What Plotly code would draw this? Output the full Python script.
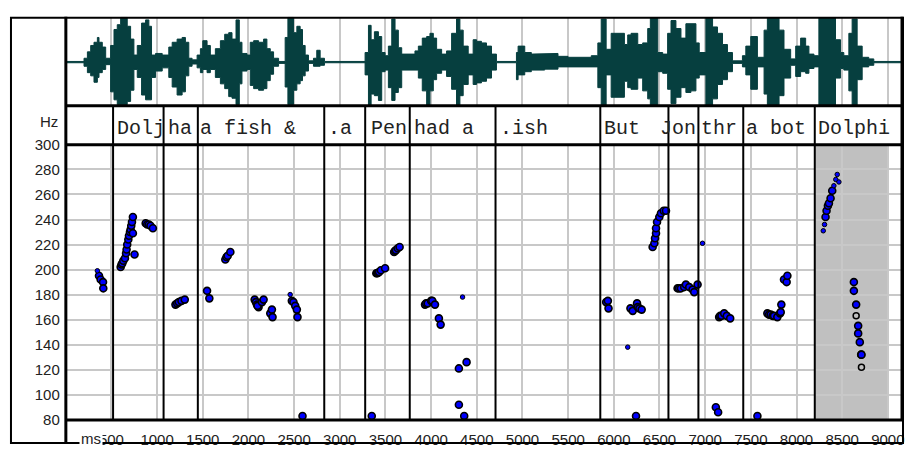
import plotly.graph_objects as go

W, H = 908, 454

# ---------------- data ----------------
# pitch points (ms, Hz)
pitch_ms = [364, 382, 408, 411,
            601, 610, 619, 630, 648, 660, 666, 673, 685, 692, 703, 710, 717, 735, 725, 735, 753,
            875, 892, 910, 928, 954,
            1201, 1220, 1238, 1267, 1303,
            1547, 1572,
            1747, 1760, 1773, 1802,
            2068, 2082, 2093, 2111, 2100, 2148, 2166,
            2239, 2257, 2264,
            2475, 2493, 2512, 2530, 2537,
            2592, 3350,
            3400, 3410, 3420, 3430, 3450, 3496,
            3595, 3605, 3615, 3635, 3655,
            3933, 3945, 3962, 4000, 4013, 4042,
            4085, 4104,
            4388, 4304, 4304, 4362,
            5916, 5935, 5942,
            6182, 6207, 6254, 6262, 6280, 6305,
            6243,
            6425, 6444, 6451, 6462, 6462, 6473, 6498, 6516, 6546, 6571,
            6698, 6715, 6735, 6770, 6789, 6826, 6862, 6880, 6917,
            7117, 7142,
            7153, 7165, 7179, 7208, 7237, 7274,
            7572,
            7681, 7700, 7718, 7740, 7754, 7790, 7820, 7827, 7834,
            7863, 7892, 7900,
            8318, 8329, 8344, 8355, 8373, 8391,
            8628, 8628, 8653, 8675, 8675, 8693, 8708, 8711]
pitch_hz = [195, 192, 190, 185,
            202, 204, 205, 207, 209, 213, 216, 220, 224, 227, 230, 232, 235, 229, 238, 242, 212,
            237, 236, 236, 235, 233,
            172, 173, 174, 175, 176,
            183, 177,
            208, 210, 211, 214,
            176, 174, 172, 170, 171, 174, 176,
            165, 168, 162,
            175, 174, 171, 168, 162,
            83, 83,
            197, 197, 197.5, 198, 199.5, 201,
            214, 215, 215.5, 217, 218,
            172, 173, 173, 175, 175, 172,
            161, 156,
            126, 121, 92, 83,
            174, 175, 169,
            169, 167, 173, 170, 169, 168,
            83,
            218, 221, 225, 229, 233, 238, 242, 245, 247, 247,
            185, 185, 185, 186, 188, 186, 184, 182, 188,
            90, 86,
            162, 163, 163, 165, 163, 161,
            83,
            165, 164, 164, 163, 163, 162, 165, 166, 172,
            192, 190, 195,
            242, 247, 251, 253, 257, 263,
            190, 183, 172, 155, 149, 142, 132, 132]

small_ms = [346, 2457, 4344, 6152, 6971, 8293, 8307, 8409, 8430, 8446, 8464]
small_hz = [199, 180, 178, 138, 221, 231, 236, 267, 272, 276, 270]

open_ms = [8653, 8711]
open_hz = [163, 122]

# segment boundaries (ms) and tier labels
boundaries_ms = [518, 1071, 1446, 2830, 3278, 3766, 4705, 5852, 6598, 6926, 7417, 8200]
label_texts = ["Dolj", "ha", "a fish &", ".a", "Pen", "had a", ".ish", "But", "Jon", "thr", "a bot", "Dolphi"]
label_ms = [536, 1093, 1453, 2851, 3321, 3790, 4729, 5875, 6486, 6934, 7425, 8211]

shade_ms = [8200, 9000]

# waveform envelope (segment start ms, upper, lower)
wave_t = [0, 200, 237, 273, 309, 346, 364, 400, 437, 491, 528, 564, 601, 673, 710, 746, 783, 830, 874, 910,
          939, 983, 1056, 1128, 1165, 1219, 1274, 1310, 1347, 1383, 1438, 1474, 1500, 1547, 1583, 1638,
          1693, 1740, 1784, 1820, 1864, 1900, 1929, 1984, 2020, 2057, 2111, 2166, 2202, 2239, 2275, 2330,
          2402, 2432, 2493, 2530, 2566, 2592, 2621, 2657, 2712, 2748, 2785, 2832,
          3277, 3314, 3343, 3379, 3423, 3459, 3496, 3532, 3569, 3605, 3641, 3678, 3823, 3860, 3903, 3951,
          3987, 4024, 4060, 4115, 4169, 4224, 4278, 4315, 4351, 4406, 4460, 4497, 4551, 4606, 4661, 4715,
          4934, 4952, 5025, 5097, 5243, 5389, 5498, 5753, 5825, 5862, 5916, 5971,
          6116, 6152, 6189, 6262, 6316, 6371, 6400, 6480, 6535, 6589, 6626, 6680, 6735, 6789, 6844, 6899,
          6935, 7008, 7081, 7135, 7190, 7244, 7299, 7408, 7445, 7499, 7572, 7645, 7681, 7809, 7863, 7936,
          7991, 8045, 8100, 8136, 8191, 8245, 8427, 8482, 8518, 8573, 8609, 8664, 8719, 8791, 8846]
wave_hi = [2, 12, 32, 52, 62, 77, 62, 47, 12, 52, 102, 117, 140, 112, 72, 22, 52, 122, 132, 112,
           22, 27, 22, 47, 62, 72, 77, 62, 12, 7, 22, 42, 67, 52, 22, 42,
           67, 87, 92, 72, 132, 62, 27, 22, 62, 67, 62, 72, 42, 32, 12, 2,
           77, 140, 92, 112, 102, 52, 22, 4, 12, 37, 12, 2,
           30, 115, 70, 95, 80, 30, 20, 50, 135, 100, 45, 25, 35, 50, 75, 80,
           90, 75, 40, 25, 35, 90, 135, 100, 50, 25, 70, 65, 60, 50, 25, 2,
           30, 50, 30, 25, 27, 18, 15, 20, 60, 135, 40, 90,
           55, 85, 90, 55, 60, 105, 138, 30, 25, 90, 130, 105, 75, 120, 120, 60,
           30, 138, 110, 90, 55, 30, 4, 20, 50, 80, 15, 100, 138, 100, 40, 10,
           50, 75, 50, 25, 20, 138, 70, 30, 20, 90, 135, 50, 15, 10, 2]
wave_lo = [-2, -13, -33, -43, -63, -48, -33, -23, -8, -93, -118, -133, -133, -123, -88, -23, -48, -103, -118, -118,
           -48, -28, -18, -48, -78, -103, -93, -43, -13, -6, -18, -33, -23, -33, -23, -48,
           -68, -83, -108, -113, -133, -68, -28, -23, -73, -83, -88, -83, -58, -38, -13, -4,
           -78, -133, -88, -68, -58, -43, -28, -4, -13, -13, -10, -2,
           -40, -135, -100, -105, -120, -30, -25, -80, -120, -95, -80, -25, -25, -50, -90, -135,
           -90, -55, -35, -25, -45, -85, -135, -105, -70, -40, -70, -65, -60, -50, -25, -2,
           -55, -40, -30, -25, -22, -15, -15, -15, -80, -135, -40, -110,
           -60, -80, -85, -50, -90, -115, -135, -30, -35, -85, -130, -110, -80, -95, -90, -50,
           -40, -135, -115, -70, -55, -30, -4, -15, -40, -85, -15, -100, -135, -105, -50, -10,
           -45, -30, -35, -20, -15, -135, -50, -20, -25, -90, -135, -55, -15, -10, -2]

x_ticks = list(range(500, 9001, 500))
y_ticks = list(range(80, 301, 20))

X_MAX = 9155

# ---------------- helpers (page pixel -> paper fraction) ----------------
def py(p):
    return 1 - p / H

def px(p):
    return p / W

XDOM = [px(65.9), px(904)]
GRID = "#c8c8c8"
TXT = "#222222"
FONT = "Liberation Sans, Arial, sans-serif"

# build step polygon for waveform
wx, wy = [], []
n = len(wave_t)
for i in range(n):
    t0 = wave_t[i]
    t1 = wave_t[i + 1] if i + 1 < n else X_MAX
    wx += [t0, t1]
    wy += [wave_hi[i], wave_hi[i]]
for i in reversed(range(n)):
    t0 = wave_t[i]
    t1 = wave_t[i + 1] if i + 1 < n else X_MAX
    wx += [t1, t0]
    wy += [wave_lo[i], wave_lo[i]]

fig = go.Figure()

fig.add_trace(go.Scatter(x=wx, y=wy, mode="lines", fill="toself",
                         fillcolor="#063f3f", line=dict(color="#063f3f", width=1),
                         xaxis="x3", yaxis="y3", hoverinfo="skip", showlegend=False))

fig.add_trace(go.Scatter(x=pitch_ms, y=pitch_hz, mode="markers",
                         marker=dict(size=7, color="#0000ff", line=dict(color="black", width=1.6)),
                         showlegend=False))
fig.add_trace(go.Scatter(x=small_ms, y=small_hz, mode="markers",
                         marker=dict(size=4.5, color="#0000ff", line=dict(color="black", width=1)),
                         showlegend=False))
fig.add_trace(go.Scatter(x=open_ms, y=open_hz, mode="markers",
                         marker=dict(size=6, symbol="circle-open", color="black", line=dict(width=1.5)),
                         showlegend=False))

shapes = []
# shaded region
shapes.append(dict(type="rect", xref="x", yref="y", x0=shade_ms[0], x1=shade_ms[1], y0=80, y1=300,
                   fillcolor="#c0c0c0", line=dict(width=0), layer="below"))
# segment boundaries
for b in boundaries_ms:
    shapes.append(dict(type="line", xref="x", yref="paper", x0=b, x1=b, y0=py(427), y1=py(101),
                       line=dict(color="black", width=2)))
# frame
shapes.append(dict(type="rect", xref="paper", yref="paper", x0=px(11), x1=px(905), y0=py(451), y1=py(9),
                   line=dict(color="black", width=2)))
shapes.append(dict(type="line", xref="paper", yref="paper", x0=px(66), x1=px(66), y0=py(452), y1=py(8),
                   line=dict(color="black", width=3)))
shapes.append(dict(type="line", xref="paper", yref="paper", x0=px(904), x1=px(904), y0=py(427), y1=py(8),
                   line=dict(color="black", width=3)))
for yy in (100.5, 141, 427):
    shapes.append(dict(type="line", xref="paper", yref="paper", x0=px(66), x1=px(905), y0=py(yy), y1=py(yy),
                       line=dict(color="black", width=3)))

annotations = []
for t, s in zip(label_ms, label_texts):
    annotations.append(dict(x=t, xref="x", y=py(124), yref="paper", text=s, showarrow=False,
                            xanchor="left", yanchor="middle",
                            font=dict(family="Liberation Mono, Courier New, monospace", size=20, color=TXT)))
annotations.append(dict(x=px(60), xref="paper", y=py(117), yref="paper", text="Hz", showarrow=False,
                        xanchor="right", yanchor="middle", font=dict(family=FONT, size=15, color=TXT)))
annotations.append(dict(x=px(79), xref="paper", y=py(446), yref="paper", text="ms", showarrow=False,
                        xanchor="left", yanchor="middle", bgcolor="white", borderpad=1,
                        font=dict(family=FONT, size=15, color=TXT)))

xcommon = dict(range=[0, X_MAX], domain=XDOM, showgrid=True, gridcolor=GRID, gridwidth=2,
               tickvals=x_ticks, zeroline=False, showline=False, fixedrange=True)

fig.update_layout(
    width=W, height=H, autosize=False,
    margin=dict(l=0, r=0, t=0, b=0),
    paper_bgcolor="white", plot_bgcolor="white",
    xaxis=dict(**xcommon, ticktext=[str(v) for v in x_ticks], ticks="outside", ticklen=6,
               tickcolor="rgba(0,0,0,0)",
               tickfont=dict(family=FONT, size=15, color=TXT)),
    yaxis=dict(range=[80, 300], domain=[py(426.7), py(140.7)], tickvals=y_ticks,
               showgrid=True, gridcolor=GRID, gridwidth=2, zeroline=False,
               ticks="outside", ticklen=2, tickcolor="rgba(0,0,0,0)",
               tickfont=dict(family=FONT, size=15, color=TXT)),
    xaxis2=dict(**xcommon, anchor="y2", showticklabels=False, ticks="", matches="x"),
    yaxis2=dict(range=[0, 1], domain=[py(141), py(101)], anchor="x2", showgrid=False,
                zeroline=False, showticklabels=False),
    xaxis3=dict(**xcommon, anchor="y3", showticklabels=False, ticks="", matches="x"),
    yaxis3=dict(range=[-135, 142], domain=[py(100), py(8)], anchor="x3", showgrid=False,
                zeroline=False, showticklabels=False),
    shapes=shapes,
    annotations=annotations,
    showlegend=False,
)

# remove the page's default body margin so the 908x454 figure fills the window exactly
fig.write_html("out.html", config={"displayModeBar": False},
               post_script="document.body.style.margin='0';document.body.style.overflow='hidden';")
